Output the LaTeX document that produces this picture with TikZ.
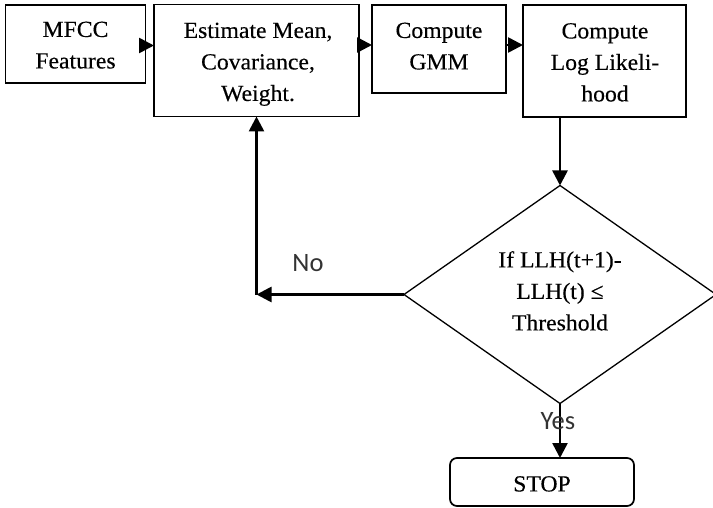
\documentclass[tikz,border=0pt]{standalone}
\usepackage{fontspec}
\setmainfont{Liberation Serif}[FakeStretch=1.03,FakeBold=0.3]
\newfontfamily\lblfont{Carlito}
\usetikzlibrary{shapes.geometric,arrows.meta}
\begin{document}
\begin{tikzpicture}[x=1pt,y=-1pt,
  box/.style={draw,line width=1.7pt,inner sep=0pt,outer sep=0pt},
  txt/.style={anchor=north,inner sep=0pt,align=center,font=\fontsize{23}{31.5}\selectfont},
  dec/.style={draw,diamond,line width=1.3pt,inner sep=0pt,outer sep=0pt,
    minimum width=312pt,minimum height=218pt},
  conn/.style={line width=2.6pt,-{Triangle[length=15pt,width=15pt]}},
  lbl/.style={font=\lblfont\fontsize{26.5}{30}\selectfont,text=black!80,inner sep=0pt}]
\useasboundingbox (0,0) rectangle (713,508);
\node[box,minimum width=140pt,minimum height=78pt] (mfcc) at (75.5,44) {};
\node[box,minimum width=205pt,minimum height=112pt] (est) at (256.5,60.5) {};
\node[box,minimum width=134pt,minimum height=88pt] (gmm) at (439,49) {};
\node[box,minimum width=163pt,minimum height=112pt] (llh) at (604.5,61) {};
\node[dec] (dec) at (560,294.5) {};
\node[box,rounded corners=7pt,minimum width=184pt,minimum height=48pt] (stop) at (542,482) {};
\node[txt] (mfcct) at (75.5,21.5) {MFCC\\Features};
\node[txt] (estt) at (258,22.5) {Estimate Mean,\\Covariance,\\Weight.};
\node[txt] (gmmt) at (439,22.5) {Compute\\GMM};
\node[txt] (llht) at (605,23) {Compute\\Log Likeli-\\hood};
\node[txt] (dect) at (560,251) {If LLH(t+1)-\\LLH(t) ≤\\Threshold};
\node[txt] (stopt) at (542,476) {STOP};
\coordinate (back) at (est.south |- dec.west);
\draw[conn] (mfcc.east |- 0,45.5) -- (est.west |- 0,45.5);
\draw[conn] (est.east |- 0,45) -- (gmm.west |- 0,45);
\draw[conn] (gmm.east |- 0,45) -- (llh.west |- 0,45);
\draw[conn] (dec.north |- llh.south) -- (dec.north);
\draw[conn] (dec.west) -- (back);
\draw[conn] (back) -- (est.south);
\draw[conn] (dec.south) -- (dec.south |- stop.north);
\node[lbl] (no) at (308,263.5) {No};
\node[lbl] (yes) at (558,421) {Yes};
\end{tikzpicture}
\end{document}
